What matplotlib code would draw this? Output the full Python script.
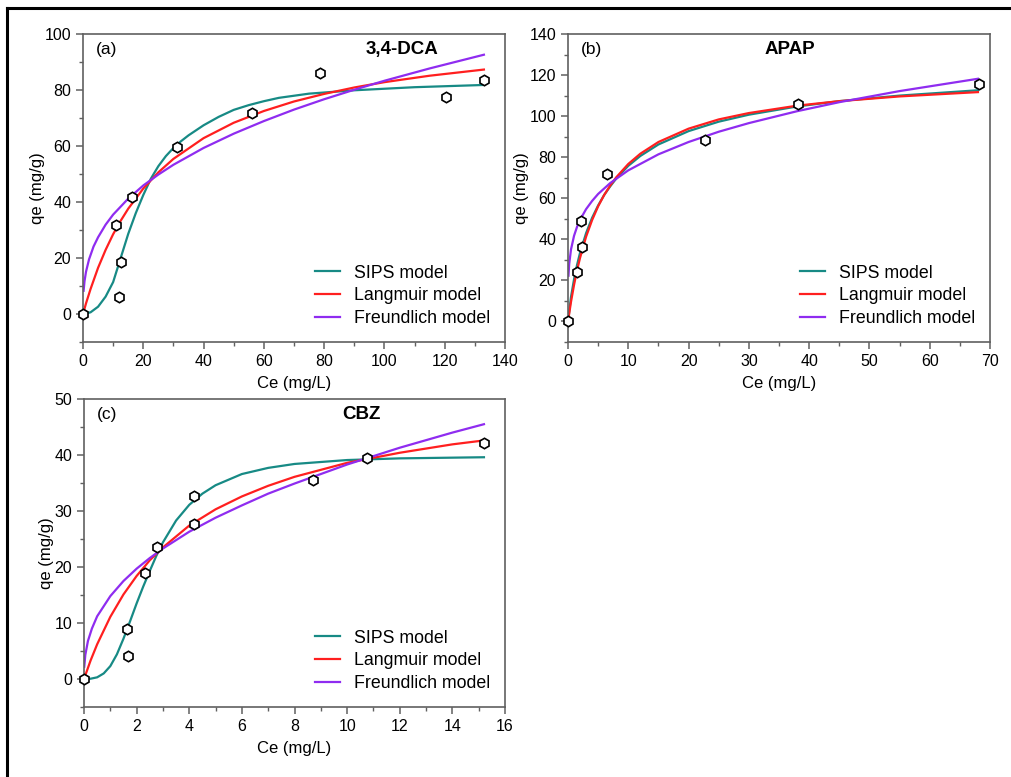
import matplotlib
matplotlib.use("Agg")
import matplotlib.pyplot as plt
from matplotlib.lines import Line2D
from matplotlib.ticker import MultipleLocator

plt.rcParams['font.family'] = ['Liberation Sans', 'DejaVu Sans']
plt.rcParams['font.size'] = 11

c_sips = "#178a85"
c_lang = "#ff1f1f"
c_freu = "#8f2cf0"

# ---- (a) 3,4-DCA ----
a_ce = [0, 10.9, 12.6, 11.9, 16.3, 31.2, 56.1, 78.6, 120.4, 133.0]
a_qe = [0, 31.9, 18.6, 6.1, 41.9, 59.5, 71.7, 86.0, 77.4, 83.5]

a_sips_x = [0, 2.5, 5, 7.5, 10, 12.5, 15, 17.5, 20, 22.5, 25, 27.5, 30, 32.5, 35, 40, 45, 50, 55, 60, 65, 75, 90, 110, 133]
a_sips_y = [0, 0.6, 2.6, 6.2, 11.4, 20.0, 28.6, 36.0, 42.5, 48.3, 52.8, 56.4, 59.3, 61.7, 63.8, 67.4, 70.4, 72.9, 74.6, 76.0, 77.2, 78.7, 79.9, 81.0, 81.8]

a_lang_x = [0, 1, 2.5, 5, 7.5, 10, 12.5, 15, 20, 25, 30, 40, 50, 60, 70, 80, 90, 100, 115, 133]
a_lang_y = [0, 3.8, 8.9, 16.5, 22.9, 28.5, 33.3, 37.6, 44.8, 50.6, 55.4, 62.8, 68.3, 72.5, 75.9, 78.6, 80.9, 82.8, 85.1, 87.3]

a_freu_x = [0.2, 0.5, 1, 2, 3.5, 5, 7.5, 10, 15, 20, 25, 30, 40, 50, 60, 70, 80, 90, 100, 115, 133]
a_freu_y = [8.3, 11.7, 15.1, 19.5, 24.1, 27.4, 31.9, 35.5, 41.2, 45.9, 49.8, 53.3, 59.3, 64.4, 68.9, 73.0, 76.7, 80.1, 83.3, 87.7, 92.6]

# ---- (b) APAP ----
b_ce = [0, 1.55, 2.4, 2.2, 6.4, 22.7, 38.1, 68.2]
b_qe = [0, 24.1, 36.1, 48.8, 71.6, 88.3, 106.0, 115.8]

b_sips_x = [0, 0.5, 1, 1.5, 2, 3, 4, 5, 6, 7, 8, 10, 12, 15, 20, 25, 30, 38, 45, 55, 68]
b_sips_y = [0, 12.0, 20.5, 27.5, 33.5, 43.0, 50.5, 56.5, 61.6, 65.8, 69.6, 75.8, 80.6, 86.2, 92.7, 97.3, 100.7, 104.7, 107.3, 110.0, 112.6]

b_lang_x = [0, 0.5, 1, 1.5, 2, 3, 4, 5, 6, 7, 8, 10, 12, 15, 20, 25, 30, 38, 45, 55, 68]
b_lang_y = [0, 9.6, 17.8, 24.9, 31.0, 41.3, 49.4, 56.1, 61.6, 66.2, 70.2, 76.7, 81.7, 87.4, 93.9, 98.4, 101.5, 105.1, 107.3, 109.6, 111.7]

b_freu_x = [0.08, 0.2, 0.5, 1, 1.5, 2, 3, 4, 5, 7, 10, 15, 20, 25, 30, 38, 45, 55, 68]
b_freu_y = [22.3, 28.0, 35.1, 41.7, 46.1, 49.5, 54.7, 58.7, 62.1, 67.4, 73.6, 81.4, 87.4, 92.4, 96.6, 102.4, 106.8, 112.2, 118.2]

# ---- (c) CBZ ----
c_ce = [0, 1.62, 1.68, 2.31, 2.78, 4.17, 4.17, 8.71, 10.76, 15.21]
c_qe = [0, 9.0, 4.1, 18.9, 23.6, 32.7, 27.7, 35.5, 39.5, 42.2]

c_sips_x = [0, 0.25, 0.5, 0.75, 1.0, 1.25, 1.5, 1.75, 2.0, 2.25, 2.5, 2.75, 3.0, 3.5, 4.0, 4.5, 5.0, 6, 7, 8, 10, 12, 15.2]
c_sips_y = [0, 0.05, 0.3, 1.0, 2.3, 4.4, 7.2, 10.3, 13.5, 16.5, 19.3, 22.0, 24.4, 28.3, 31.1, 33.1, 34.6, 36.6, 37.7, 38.4, 39.1, 39.4, 39.6]

c_lang_x = [0, 0.25, 0.5, 1, 1.5, 2, 2.5, 3, 4, 5, 6, 7, 8, 10, 12, 14, 15.2]
c_lang_y = [0, 3.3, 6.2, 11.1, 15.1, 18.4, 21.2, 23.5, 27.4, 30.3, 32.6, 34.5, 36.1, 38.6, 40.4, 41.9, 42.6]

c_freu_x = [0.01, 0.05, 0.15, 0.3, 0.5, 1, 1.5, 2, 2.5, 3, 4, 5, 6, 7, 8, 10, 12, 14, 15.2]
c_freu_y = [2.2, 4.3, 6.8, 9.0, 11.2, 14.8, 17.5, 19.7, 21.6, 23.3, 26.3, 28.8, 31.0, 33.1, 34.9, 38.3, 41.3, 44.0, 45.5]


fig = plt.figure(figsize=(10.11, 7.77), dpi=100)

# outer frame (top and left edges)
fig.add_artist(Line2D([7/1011, 1.0], [1 - 8/777, 1 - 8/777], color='black', lw=2.2))
fig.add_artist(Line2D([7/1011, 7/1011], [0, 1 - 8/777], color='black', lw=2.2))

panels = [
    dict(rect=[83/1011, 1-342/777, 422/1011, 308/777], ce=a_ce, qe=a_qe,
         sips=(a_sips_x, a_sips_y), lang=(a_lang_x, a_lang_y), freu=(a_freu_x, a_freu_y),
         xlim=(0, 140), ylim=(-10, 100), xmaj=20, xmin=10, ymaj=20, ymin=10,
         lab="(a)", title="3,4-DCA", tx=0.756),
    dict(rect=[568/1011, 1-342/777, 422/1011, 308/777], ce=b_ce, qe=b_qe,
         sips=(b_sips_x, b_sips_y), lang=(b_lang_x, b_lang_y), freu=(b_freu_x, b_freu_y),
         xlim=(0, 70), ylim=(-10, 140), xmaj=10, xmin=5, ymaj=20, ymin=10,
         lab="(b)", title="APAP", tx=0.526),
    dict(rect=[84/1011, 1-707/777, 421/1011, 308/777], ce=c_ce, qe=c_qe,
         sips=(c_sips_x, c_sips_y), lang=(c_lang_x, c_lang_y), freu=(c_freu_x, c_freu_y),
         xlim=(0, 16), ylim=(-5, 50), xmaj=2, xmin=1, ymaj=10, ymin=5,
         lab="(c)", title="CBZ", tx=0.66),
]

for p in panels:
    ax = fig.add_axes(p['rect'])
    ax.plot(*p['sips'], color=c_sips, lw=1.6, label="SIPS model")
    ax.plot(*p['lang'], color=c_lang, lw=1.6, label="Langmuir model")
    ax.plot(*p['freu'], color=c_freu, lw=1.6, label="Freundlich model")
    ax.plot(p['ce'], p['qe'], linestyle='none', marker='h', ms=7.5,
            mfc='white', mec='black', mew=1.2, zorder=5, clip_on=False)
    ax.set_xlim(*p['xlim'])
    ax.set_ylim(*p['ylim'])
    ax.xaxis.set_major_locator(MultipleLocator(p['xmaj']))
    ax.xaxis.set_minor_locator(MultipleLocator(p['xmin']))
    ax.yaxis.set_major_locator(MultipleLocator(p['ymaj']))
    ax.yaxis.set_minor_locator(MultipleLocator(p['ymin']))
    for s in ax.spines.values():
        s.set_color('#606060')
        s.set_linewidth(1.2)
    ax.tick_params(which='both', direction='out', top=False, right=False,
                   color='#606060', labelsize=11.5)
    ax.tick_params(which='major', length=5, width=1.1)
    ax.tick_params(which='minor', length=3, width=1.0)
    ax.set_xlabel("Ce (mg/L)", fontsize=12, labelpad=5)
    ax.set_ylabel("qe (mg/g)", fontsize=12, labelpad=0)
    ax.text(0.03, 0.95, p['lab'], transform=ax.transAxes, fontsize=12.5,
            ha='left', va='center')
    ax.text(p['tx'], 0.95, p['title'], transform=ax.transAxes, fontsize=13.5,
            fontweight='bold', ha='center', va='center')
    ax.legend(loc='lower right', frameon=False, fontsize=12.8, handlelength=1.4,
              handletextpad=0.75, labelspacing=0.32, borderaxespad=0.45)

fig.savefig("out.png", dpi=100)
